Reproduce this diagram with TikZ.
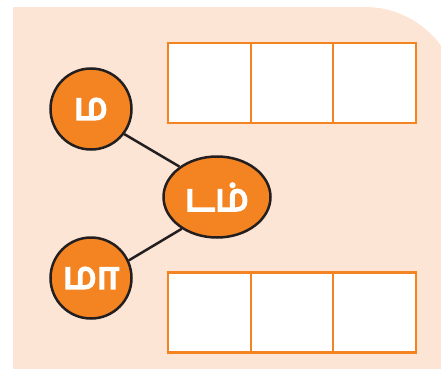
\documentclass[tikz,border=0pt]{standalone}
\usepackage{fontspec}
\newfontfamily\tamilfont[Script=Tamil,FakeBold=5]{Hind Madurai}
\usetikzlibrary{shapes.geometric}
\definecolor{peach}{HTML}{FDE5D5}
\definecolor{orng}{HTML}{F48421}
\definecolor{outl}{HTML}{231F20}
\begin{document}
\begin{tikzpicture}[x=1pt,y=1pt,
  bubble/.style={circle,fill=orng,draw=outl,line width=2.5pt,minimum size=81pt,inner sep=0pt,
    text=white,font=\tamilfont\fontsize{38}{38}\selectfont},
  cell/.style={rectangle,fill=white,draw=orng,line width=2.2pt,minimum width=82.5pt,minimum height=80pt,inner sep=0pt},
  link/.style={draw=outl,line width=2.5pt}]
\useasboundingbox (0,0) rectangle (441,368);
\clip (0,0) rectangle (441,368);
\fill[peach] (13,-5) -- (13,361) -- (365,361) arc (90:0:94) -- (459,-5) -- cycle;
% boxes
\node[cell] (t1) at (209.5,285) {};
\node[cell] (t2) at (292,285) {};
\node[cell] (t3) at (374.5,285) {};
\node[cell] (b1) at (209.5,55.5) {};
\node[cell] (b2) at (292,55.5) {};
\node[cell] (b3) at (374.5,55.5) {};
% bubbles
\node[bubble] (ma1) at (91,259) {ம};
\node[bubble] (ma2) at (91,90) {மா};
\node[bubble,ellipse,minimum width=107pt,minimum height=81pt] (dam) at (217,171) {டம்};
\draw[link] (ma1.-37) -- (dam.141);
\draw[link] (dam.222) -- (ma2.25);
\end{tikzpicture}
\end{document}
